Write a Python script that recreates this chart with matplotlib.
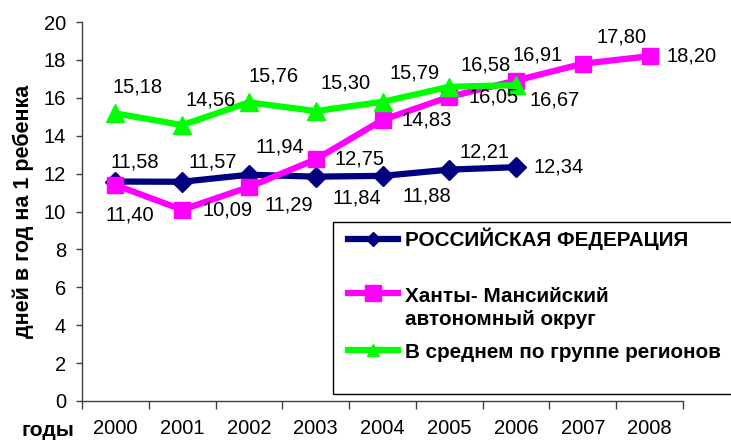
import matplotlib
matplotlib.use("Agg")
import matplotlib.pyplot as plt
from matplotlib.lines import Line2D
from matplotlib.patches import Rectangle

plt.rcParams['font.family'] = ['Liberation Sans', 'DejaVu Sans']

years = ["2000", "2001", "2002", "2003", "2004", "2005", "2006", "2007", "2008"]
rf = [11.58, 11.57, 11.94, 11.84, 11.88, 12.21, 12.34]
khmao = [11.40, 10.09, 11.29, 12.75, 14.83, 16.05, 16.91, 17.80, 18.20]
group = [15.18, 14.56, 15.76, 15.30, 15.79, 16.58, 16.67]
names = ["РОССИЙСКАЯ ФЕДЕРАЦИЯ", "Ханты- Мансийский\nавтономный округ",
         "В среднем по группе регионов"]
yticks = [0, 2, 4, 6, 8, 10, 12, 14, 16, 18, 20]

W, H = 731, 442
fig = plt.figure(figsize=(W / 100, H / 100), dpi=100)
ax = fig.add_axes([82 / W, 1 - 401 / H, 601 / W, 379 / H])

FS = 14.5
FB = 14.9
c_rf, c_kh, c_gr = "#000080", "#FF00FF", "#00FF00"

x_rf = list(range(len(rf)))
x_kh = list(range(len(khmao)))
x_gr = list(range(len(group)))

ax.plot(x_rf, rf, color=c_rf, lw=4.5, marker="D", ms=10, zorder=3)
ax.plot(x_kh, khmao, color=c_kh, lw=4.5, marker="s", ms=12, zorder=4)
ax.plot(x_gr, group, color=c_gr, lw=4.5, marker="^", ms=13, zorder=5)

# label offsets in pixels (dx right, dy down)
off_rf = [(19, -20), (31, -20), (31, -28), (41, 21), (44, 20), (35, -18), (43, 0)]
off_kh = [(14, 30), (45, 0), (40, 18), (44, 0), (44, 0), (44, 0), (22, -26), (39, -27), (42, 0)]
off_gr = [(22, -26), (28, -25), (25, -26), (30, -28), (32, -29), (36, -22), (39, 15)]

def fmt(v):
    return f"{v:.2f}".replace(".", ",")

for xs, vals, offs in [(x_rf, rf, off_rf), (x_kh, khmao, off_kh), (x_gr, group, off_gr)]:
    for x, v, (dx, dy) in zip(xs, vals, offs):
        ax.annotate(fmt(v), (x, v), xytext=(dx, -dy), textcoords="offset pixels",
                    ha="center", va="center", fontsize=FS, zorder=6)

ax.set_xlim(-0.5, len(years) - 0.5)
ax.set_ylim(0, 20)
ax.set_yticks(yticks)
ax.set_xticks(range(len(years)))
ax.set_xticklabels(years)
ax.set_xticks([i - 0.5 for i in range(len(years) + 1)], minor=True)
ax.tick_params(axis="x", which="major", length=0, pad=13, labelsize=FS)
ax.tick_params(axis="x", which="minor", length=6, width=1, color="#404040")
ax.tick_params(axis="y", length=4.5, width=1, color="#404040", pad=7, labelsize=FS)
for s in ["top", "right"]:
    ax.spines[s].set_visible(False)
for s in ["left", "bottom"]:
    ax.spines[s].set_color("#404040")
    ax.spines[s].set_linewidth(1)

ax.set_ylabel("дней в год на 1 ребенка", fontsize=15.5, fontweight="bold", va="center")
ax.yaxis.set_label_coords((23 - 82) / 601, 0.5)

fig.text(48 / W, 1 - 430 / H, "годы", fontsize=15.3, fontweight="bold", ha="center", va="center")

# legend box (drawn manually to match layout)
def fx(px):
    return px / W

def fy(py):
    return 1 - py / H

fig.add_artist(Rectangle((fx(333), fy(394)), fx(760) - fx(333), fy(222) - fy(394),
                         transform=fig.transFigure, facecolor="white", edgecolor="black",
                         lw=1, zorder=10, clip_on=False))
leg_rows = [(239, c_rf, "D", 7, names[0], 239),
            (293, c_kh, "s", 11, names[1], 308),
            (350, c_gr, "^", 9, names[2], 352)]
for ly, col, mk, ms, txt, ty in leg_rows:
    fig.add_artist(Line2D([fx(348), fx(373), fx(398)], [fy(ly)] * 3, color=col, lw=4.5,
                          marker=mk, ms=ms, markevery=[1], transform=fig.transFigure, zorder=11))
    fig.text(fx(405), fy(ty), txt, fontsize=FB, fontweight="bold", ha="left", va="center",
             zorder=12, linespacing=1.3)

fig.savefig("out.png", dpi=100)
